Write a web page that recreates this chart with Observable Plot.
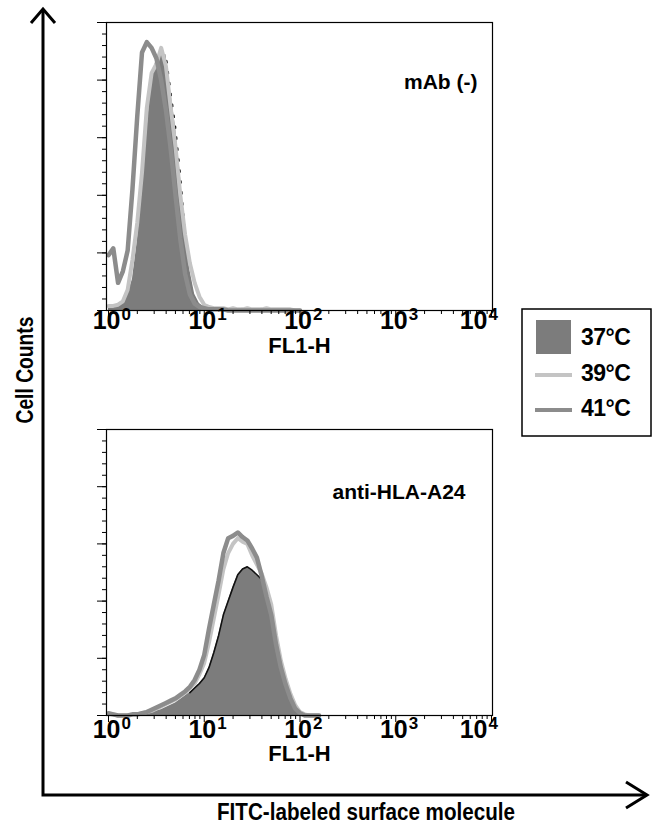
<!DOCTYPE html>
<html><head><meta charset="utf-8">
<script src="https://cdn.jsdelivr.net/npm/d3@7"></script>
<script src="https://cdn.jsdelivr.net/npm/@observablehq/plot@0.6"></script>
<style>
body{margin:0;background:#fff;}
#page{position:relative;width:655px;height:825px;font-family:"Liberation Sans",Arial,sans-serif;}
.panel{position:absolute;left:0;}
#overlay{position:absolute;left:0;top:0;pointer-events:none;}
</style></head><body><div id="page"></div>
<script>
// log10 channel positions of the histogram bins
const binsTop = [0.00,0.05,0.10,0.15,0.20,0.25,0.30,0.35,0.40,0.45,0.50,0.55,0.60,0.65,0.70,0.75,0.80,0.85,0.90,0.95,1.00,1.05,1.10,1.15,1.20,1.25,1.30,1.35,1.40,1.45,1.50,1.55,1.60,1.65,1.70,1.75,1.80,1.85,1.90,1.95,2.00];
const top37 = [3,3,4,8,14,27,60,103,155,202,218,223,222,190,159,118,68,35,14,6,3,2,2,2,1,2,1,1,2,1,1,1,2,1,1,1,1,0,1,0,0];
const top39 = [4,4,5,8,18,44,76,120,176,206,214,228,212,176,142,100,66,41,24,12,5,3,2,2,2,1,2,1,1,2,1,1,1,2,1,1,1,1,1,0,0];
const top41 = [48,54,24,34,52,105,168,224,233,228,219,200,174,140,100,62,32,14,6,3,2,1,1,1,1,0,0,0,0,0,0,0,0,0,0,0,0,0,0,0,0];

const binsBottom = [0.00,0.05,0.10,0.15,0.20,0.25,0.30,0.35,0.40,0.45,0.50,0.55,0.60,0.65,0.70,0.75,0.80,0.85,0.90,0.95,1.00,1.05,1.10,1.15,1.20,1.25,1.30,1.35,1.40,1.45,1.50,1.55,1.60,1.65,1.70,1.75,1.80,1.85,1.90,1.95,2.00,2.05,2.10,2.15,2.20];
const bottom37 = [3,1,0,0,0,0,1,2,2,3,4,5,7,9,11,14,17,20,24,28,33,42,55,70,88,100,112,123,128,130,127,123,119,108,90,62,40,28,17,7,2,1,0,0,0];
const bottom39 = [1,1,0,0,0,1,1,2,3,4,6,8,10,12,14,17,20,24,28,36,46,64,85,106,128,142,150,155,152,150,140,132,124,112,97,70,48,32,19,9,3,1,0,0,0];
const bottom41 = [2,1,0,0,0,1,1,2,3,5,7,9,11,13,15,18,21,25,31,40,53,76,97,118,142,155,157,160,156,153,146,138,122,104,88,62,42,27,15,6,2,0,0,0,0];

const decades = [1, 10, 100, 1000, 10000];
const decadeExps = ["0", "1", "2", "3", "4"];
const panelLabels = ["mAb (-)", "anti-HLA-A24"];
const xAxisLabel = "FL1-H";
const seriesLabels = ["37°C", "39°C", "41°C"];
const yTitle = "Cell Counts";
const xTitle = "FITC-labeled surface molecule";

const minorX = d3.range(0, 4).flatMap(k => d3.range(2, 10).map(m => m * 10 ** k));
const minorY = d3.range(0, 251, 10);
const majorY = d3.range(0, 251, 50);

const C37 = "#7c7c7c", C39 = "#c4c4c4", C41 = "#8c8c8c";
const FONT = "Liberation Sans, Arial, sans-serif";

function panel(cfg) {
  const rows = arr => cfg.bins.map((b, i) => ({b, x: 10 ** b, y: arr[i]}));
  const d37 = rows(cfg.v37), d39 = rows(cfg.v39), d41 = rows(cfg.v41);
  const edge37 = d37.filter(d => d.b >= cfg.edgeFrom && d.b <= cfg.edgeTo);
  const lastDec = decades.slice(-1), firstDecs = decades.slice(0, -1);
  const lastExp = decadeExps.slice(-1), firstExps = decadeExps.slice(0, -1);
  return Plot.plot({
    width: 655, height: 380,
    marginLeft: 106, marginRight: 163, marginTop: 22, marginBottom: cfg.mb,
    x: {type: "log", domain: [1, 1e4], insetLeft: 2, insetRight: 1},
    y: {domain: [0, 250]},
    style: {fontFamily: FONT, background: "transparent", color: "#000"},
    marks: [
      Plot.areaY(d37, {x: "x", y: "y", fill: C37}),
      Plot.lineY(edge37, {x: "x", y: "y", stroke: "#111", strokeWidth: 1.6, strokeDasharray: cfg.dash}),
      Plot.lineY(d39, {x: "x", y: "y", stroke: C39, strokeWidth: 4}),
      Plot.lineY(d41, {x: "x", y: "y", stroke: C41, strokeWidth: 4.5}),
      Plot.frame({stroke: "#000", strokeWidth: 1.2}),
      Plot.axisX({ticks: minorX, tickSize: 4, tickFormat: () => "", label: null}),
      Plot.axisX({ticks: decades, tickSize: 7, tickFormat: () => "", label: null}),
      Plot.axisY({ticks: minorY, tickSize: 4, tickFormat: () => "", label: null}),
      Plot.axisY({ticks: majorY, tickSize: 9, tickFormat: () => "", label: null}),
      Plot.text(firstDecs, {x: d => d, text: () => "10", frameAnchor: "bottom", textAnchor: "end", dx: 12, dy: cfg.tickDy, fontSize: 25, fontWeight: "bold"}),
      Plot.text(lastDec, {x: d => d, text: () => "10", frameAnchor: "bottom", textAnchor: "end", dx: -4, dy: cfg.tickDy, fontSize: 25, fontWeight: "bold"}),
      Plot.text(firstDecs, {x: d => d, text: (d, i) => firstExps[i], frameAnchor: "bottom", textAnchor: "start", dx: 13, dy: cfg.tickDy - 9, fontSize: 17, fontWeight: "bold"}),
      Plot.text(lastDec, {x: d => d, text: (d, i) => lastExp[i], frameAnchor: "bottom", textAnchor: "start", dx: -3, dy: cfg.tickDy - 9, fontSize: 17, fontWeight: "bold"}),
      Plot.text([xAxisLabel], {text: d => d, frameAnchor: "bottom", dy: cfg.labDy, fontSize: 22, fontWeight: "bold"}),
      Plot.text([cfg.label], {text: d => d, frameAnchor: "top-right", textAnchor: "end", dx: cfg.labelDx, dy: cfg.labelDy, fontSize: 21, fontWeight: "bold"})
    ]
  });
}

const page = document.getElementById("page");
const p1 = panel({bins: binsTop, v37: top37, v39: top39, v41: top41, mb: 70, tickDy: 18, labDy: 42, label: panelLabels[0], labelDx: -15, labelDy: 52, dash: "2,9", edgeFrom: 0.55, edgeTo: 0.8});
p1.classList.add("panel"); p1.style.top = "0px";
page.appendChild(p1);
const p2 = panel({bins: binsBottom, v37: bottom37, v39: bottom39, v41: bottom41, mb: 72, tickDy: 22, labDy: 45, label: panelLabels[1], labelDx: -27, labelDy: 55, dash: null, edgeFrom: 0.85, edgeTo: 2.05});
p2.classList.add("panel"); p2.style.top = "407px";
page.appendChild(p2);

// overlay: big axes, axis titles, legend
const svg = d3.select(page).append("svg").attr("id", "overlay").attr("width", 655).attr("height", 825)
  .style("font-family", FONT);
const stroke = {fill: "none", stroke: "#000", "stroke-width": 3, "stroke-linejoin": "miter"};
function path(d) { const p = svg.append("path").attr("d", d); for (const k in stroke) p.attr(k, stroke[k]); return p; }
path("M43,9 L43,795 L646,795");
path("M31,23 L43,9 L55,23");
path("M626,782 L647,795 L626,808");
svg.append("text").attr("transform", "translate(33,370) rotate(-90)").attr("text-anchor", "middle")
  .attr("font-size", 23).attr("font-weight", "bold").attr("textLength", 107).attr("lengthAdjust", "spacingAndGlyphs").text(yTitle);
svg.append("text").attr("x", 366).attr("y", 820).attr("text-anchor", "middle")
  .attr("font-size", 24).attr("font-weight", "bold").attr("textLength", 298).attr("lengthAdjust", "spacingAndGlyphs").text(xTitle);

const lg = svg.append("g");
lg.append("rect").attr("x", 522).attr("y", 309).attr("width", 129).attr("height", 127).attr("fill", "#fff").attr("stroke", "#000").attr("stroke-width", 1.5);
lg.append("rect").attr("x", 536).attr("y", 320).attr("width", 35).attr("height", 34).attr("fill", C37);
lg.append("line").attr("x1", 535).attr("x2", 572).attr("y1", 375).attr("y2", 375).attr("stroke", C39).attr("stroke-width", 4);
lg.append("line").attr("x1", 535).attr("x2", 572).attr("y1", 410).attr("y2", 410).attr("stroke", C41).attr("stroke-width", 4);
const baselines = [345, 381, 416];
seriesLabels.forEach((t, i) => {
  lg.append("text").attr("x", 581).attr("y", baselines[i]).attr("font-size", 23).attr("font-weight", "bold")
    .attr("letter-spacing", -0.5).text(t);
});
</script>
</body></html>
